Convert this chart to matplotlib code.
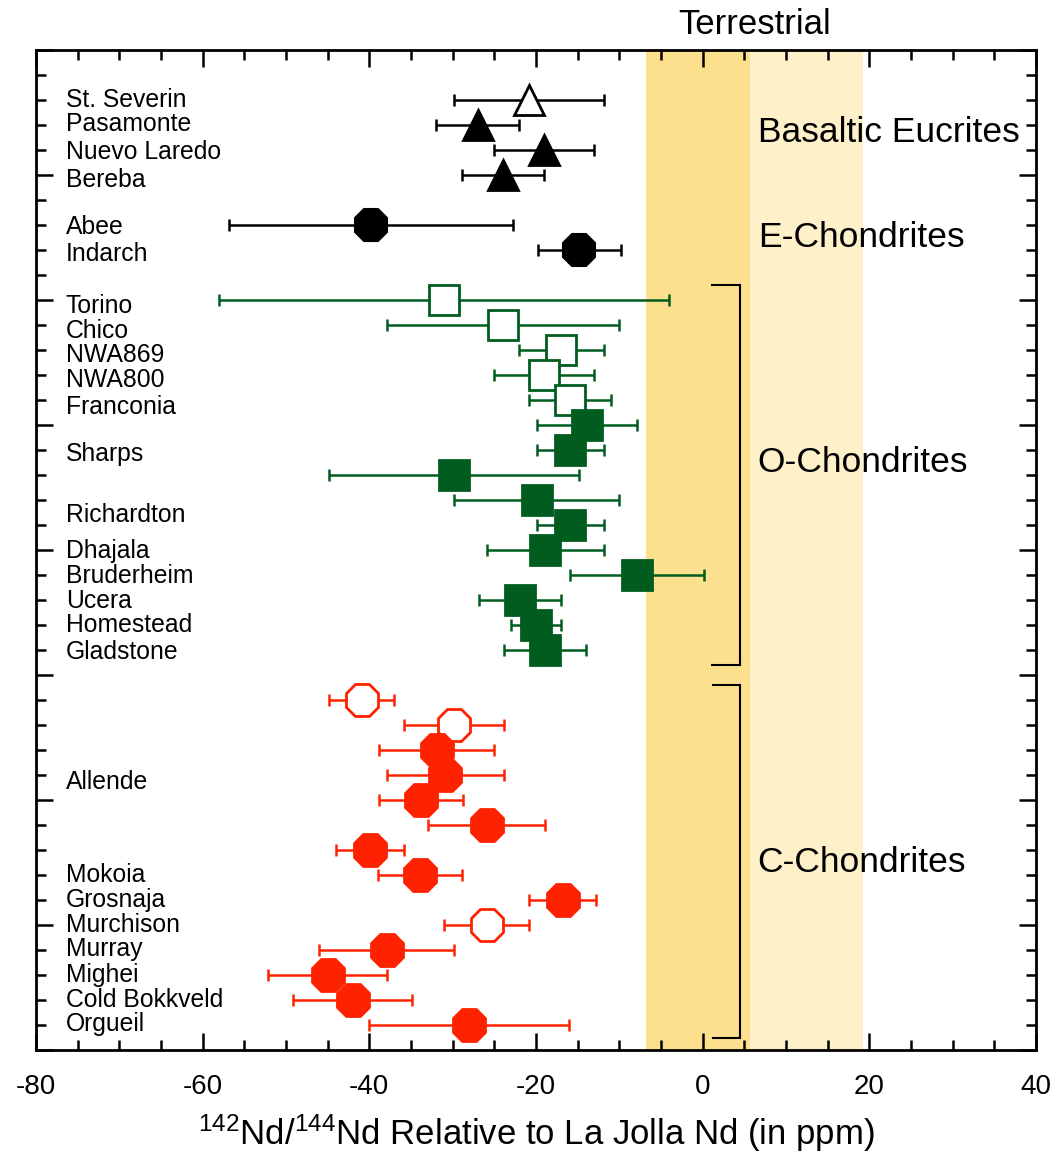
import matplotlib
matplotlib.use("Agg")
import matplotlib.pyplot as plt
from matplotlib.ticker import MultipleLocator, NullFormatter

plt.rcParams['font.family'] = ['Liberation Sans', 'DejaVu Sans']
plt.rcParams['mathtext.fontset'] = 'custom'
plt.rcParams['mathtext.rm'] = 'Liberation Sans'
plt.rcParams['mathtext.it'] = 'Liberation Sans:italic'
plt.rcParams['mathtext.bf'] = 'Liberation Sans:bold'

# ---------------- data ----------------
# Basaltic eucrites
euc_rows = [2, 3, 4, 5]
euc_vals = [-20.8, -27.0, -19.0, -24.0]
euc_errs = [9.0, 5.0, 6.0, 4.9]
euc_open = [True, False, False, False]

# E-chondrites
ech_rows = [7, 8]
ech_vals = [-39.8, -14.8]
ech_errs = [17.0, 5.0]

# O-chondrites
och_rows = [10, 11, 12, 13, 14, 15, 16, 17, 18, 19, 20, 21, 22, 23, 24]
och_vals = [-31.0, -24.0, -17.0, -19.0, -15.9, -13.9, -15.9, -29.8, -19.9,
            -15.9, -18.9, -7.9, -21.9, -20.0, -18.9]
och_errs = [27.0, 13.9, 5.1, 6.0, 4.9, 6.0, 4.0, 15.0, 9.9, 4.0, 7.0, 8.0,
            4.9, 3.0, 4.9]
och_open = [True, True, True, True, True, False, False, False, False, False,
            False, False, False, False, False]

# C-chondrites
cch_rows = [26, 27, 28, 29, 30, 31, 32, 33, 34, 35, 36, 37, 38, 39]
cch_vals = [-40.9, -29.8, -31.9, -30.9, -33.8, -25.9, -39.9, -33.9, -16.8,
            -25.9, -37.9, -45.0, -42.0, -28.0]
cch_errs = [3.9, 6.0, 6.9, 7.0, 5.0, 7.0, 4.1, 5.0, 4.0, 5.1, 8.1, 7.1, 7.1,
            12.0]
cch_open = [True, True, False, False, False, False, False, False, False, True,
            False, False, False, False]

# sample names
name_text = ['St. Severin', 'Pasamonte', 'Nuevo Laredo', 'Bereba', 'Abee',
             'Indarch', 'Torino', 'Chico', 'NWA869', 'NWA800', 'Franconia',
             'Sharps', 'Richardton', 'Dhajala', 'Bruderheim', 'Ucera',
             'Homestead', 'Gladstone', 'Allende', 'Mokoia', 'Grosnaja',
             'Murchison', 'Murray', 'Mighei', 'Cold Bokkveld', 'Orgueil']
name_rows = [1.96, 2.92, 4.04, 5.16, 7.04, 8.12, 10.2, 11.2, 12.16, 13.16,
             14.24, 16.12, 18.56, 20.0, 21.0, 22.0, 22.96, 24.04, 29.24,
             32.96, 33.96, 34.96, 35.92, 36.96, 37.96, 38.92]

# group labels
group_text = ['Basaltic Eucrites', 'E-Chondrites', 'O-Chondrites',
              'C-Chondrites']
group_rows = [3.3, 7.5, 16.5, 32.5]

# terrestrial bands
terr_inner = (-6.8, 5.7)
terr_outer = (5.7, 19.2)

# brackets (rows spanned)
o_bracket = (9.4, 24.6)
c_bracket = (25.4, 39.5)

xticks = [-80, -60, -40, -20, 0, 20, 40]

# ---------------- figure ----------------
fig = plt.figure(figsize=(10.52, 11.55), dpi=100)
fig.subplots_adjust(left=36 / 1052, right=1036 / 1052,
                    top=1 - 50 / 1155, bottom=1 - 1050 / 1155)
ax = fig.add_subplot(111)

ax.axvspan(*terr_inner, color='#FDE08D', lw=0, zorder=0)
ax.axvspan(*terr_outer, color='#FEF0C9', lw=0, zorder=0)

GREEN = '#005C1F'
RED = '#FF2200'


def draw(rows, vals, errs, opens, marker, color, ms, mew):
    for r, v, e, o in zip(rows, vals, errs, opens):
        ax.errorbar(v, r, xerr=e, fmt='none', ecolor=color, elinewidth=1.8,
                    capsize=4.5, capthick=1.8, zorder=2)
        ax.plot(v, r, marker=marker, ms=ms, mec=color,
                mfc='white' if o else color, mew=mew, zorder=3,
                linestyle='none')


draw(euc_rows, euc_vals, euc_errs, euc_open, '^', 'black', 22, 2)
draw(ech_rows, ech_vals, ech_errs, [False, False], '8', 'black', 25, 1.5)
draw(och_rows, och_vals, och_errs, och_open, 's', GREEN, 22, 2)
draw(cch_rows, cch_vals, cch_errs, cch_open, '8', RED, 25, 2)

for t, r in zip(name_text, name_rows):
    ax.text(-76.4, r + 0.05, t, fontsize=17.8, va='center', ha='left')

for t, r in zip(group_text, group_rows):
    ax.text(6.6, r, t, fontsize=25.5, va='center', ha='left')

ax.text(6.2, -1.0, 'Terrestrial', fontsize=25, va='center', ha='center',
        clip_on=False)

for (y0, y1), x0 in ((o_bracket, 1.1), (c_bracket, 1.2)):
    ax.plot([x0, 4.5, 4.5, x0], [y0, y0, y1, y1], color='black', lw=1.5,
            zorder=2, solid_joinstyle='miter')

ax.set_xlim(-80, 40)
ax.set_ylim(40, 0)
ax.set_xticks(xticks)
ax.set_xticklabels([str(v) for v in xticks])
ax.xaxis.set_minor_locator(MultipleLocator(5))
ax.yaxis.set_major_locator(MultipleLocator(5))
ax.yaxis.set_minor_locator(MultipleLocator(1))
ax.yaxis.set_major_formatter(NullFormatter())
ax.tick_params(which='both', direction='in', top=True, right=True,
               width=1.8, colors='black')
ax.tick_params(which='major', length=12)
ax.tick_params(which='minor', length=7)
ax.tick_params(axis='x', which='major', labelsize=20, pad=17)
for s in ax.spines.values():
    s.set_linewidth(2)

ax.set_xlabel(r'$^{142}$Nd/$^{144}$Nd Relative to La Jolla Nd (in ppm)',
              fontsize=25, labelpad=9)

fig.savefig('out.png', dpi=100)
